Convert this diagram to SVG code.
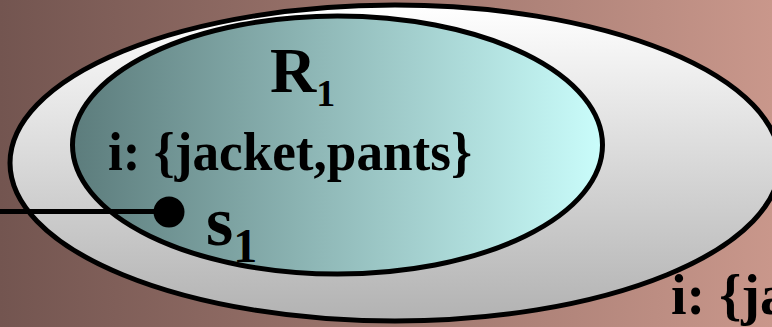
<svg xmlns="http://www.w3.org/2000/svg" width="772" height="327" viewBox="0 0 772 327">
  <defs>
    <linearGradient id="bg" x1="0" y1="0" x2="1" y2="0">
      <stop offset="0" stop-color="#735550"/>
      <stop offset="1" stop-color="#c9978b"/>
    </linearGradient>
    <linearGradient id="outerFill" x1="0" y1="0" x2="0" y2="1">
      <stop offset="0" stop-color="#ffffff"/>
      <stop offset="1" stop-color="#b2b2b2"/>
    </linearGradient>
    <linearGradient id="innerFill" x1="0" y1="0" x2="1" y2="0">
      <stop offset="0" stop-color="#5c7c7c"/>
      <stop offset="1" stop-color="#cafdfb"/>
    </linearGradient>
    <style>
      .t { font-family: "Liberation Serif", "Times New Roman", serif; font-weight: bold; fill: #000; }
      .ell { stroke: #000; stroke-width: 5; }
    </style>
  </defs>
  <rect x="0" y="0" width="772" height="327" fill="url(#bg)"/>
  <g id="S-region">
    <ellipse class="ell" cx="395" cy="163" rx="385" ry="158" fill="url(#outerFill)"/>
  </g>
  <g id="R1">
    <ellipse class="ell" cx="337.5" cy="145" rx="265" ry="129" fill="url(#innerFill)"/>
    <text class="t" x="270" y="92" font-size="64">R<tspan font-size="38" dy="14">1</tspan></text>
    <text class="t" x="108" y="170" font-size="54" textLength="364" lengthAdjust="spacingAndGlyphs">i: {jacket,pants}</text>
  </g>
  <g id="connectors">
    <line x1="0" y1="211.5" x2="168" y2="211.5" stroke="#000" stroke-width="5"/>
  </g>
  <g id="s1">
    <circle cx="169" cy="212" r="15.5" fill="#000"/>
    <text class="t" x="206" y="245" font-size="70">s<tspan font-size="48" dy="17">1</tspan></text>
  </g>
  <g id="label-outer">
    <text class="t" x="671" y="314" font-size="56">i: {ja</text>
  </g>
</svg>
